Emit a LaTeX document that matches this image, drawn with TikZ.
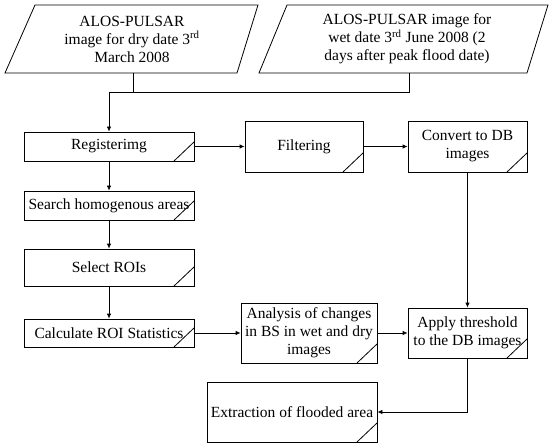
\documentclass[tikz,border=0pt]{standalone}
\usepackage{fontspec}
\setmainfont{Liberation Serif}
\usetikzlibrary{arrows.meta}
\tikzset{
  every node/.style={font=\fontsize{15.5}{18}\selectfont, align=center, inner sep=0pt},
  procbox/.style={draw, line width=0.8pt, rectangle,
    path picture={\draw[line width=0.8pt] ([xshift=-20pt]path picture bounding box.south east) -- ++(20pt,19pt);}},
  para/.style={draw, line width=0.8pt},
  conn/.style={line width=0.8pt},
  arr/.style={line width=0.8pt, -{Latex[length=5pt,width=4.5pt]}}
}
\begin{document}
\begin{tikzpicture}[x=1pt,y=-1pt]
\useasboundingbox (0,0) rectangle (550,444);
% input parallelograms
\draw[para] (35,5) -- (258,5) -- (237,73) -- (5,73) -- cycle;
\node (p1) at (132,39) {ALOS-PULSAR\\image for dry date 3\textsuperscript{rd}\\March 2008};
\draw[para] (287,5) -- (548,5) -- (527,73) -- (259,73) -- cycle;
\node (p2) at (407,39) {ALOS-PULSAR image for\\wet date 3\textsuperscript{rd} June 2008 (2\\days after peak flood date)};
\coordinate (p1b) at (133,73);
\coordinate (p2b) at (409,73);
\coordinate (j) at (109,92);
% process boxes
\node[procbox, minimum width=170, minimum height=29] (reg) at (109,146.5) {Registerimg};
\node[procbox, minimum width=170, minimum height=29] (search) at (109,205.5) {Search homogenous areas};
\node[procbox, minimum width=170, minimum height=37] (select) at (109,267.5) {Select ROIs};
\node[procbox, minimum width=170, minimum height=28] (calc) at (109,333) {Calculate ROI Statistics};
\node[procbox, minimum width=118, minimum height=51] (filt) at (304,146.5) {Filtering};
\node[procbox, minimum width=119, minimum height=51] (conv) at (467.5,146.5) {Convert to DB\\images};
\node[procbox, minimum width=136, minimum height=60] (anal) at (309,333) {Analysis of changes\\in BS in wet and dry\\images};
\node[procbox, minimum width=119, minimum height=50] (apply) at (467.5,333) {Apply threshold\\to the DB images};
\node[procbox, minimum width=170, minimum height=60] (extr) at (292,412) {Extraction of flooded area};
% connectors
\draw[conn] (p1b) |- (j);
\draw[conn] (p2b) |- (j);
\draw[arr] (j) -- (reg.north);
\draw[arr] (reg.east) -- (filt.west);
\draw[arr] (filt.east) -- (conv.west);
\draw[arr] (reg.south) -- (search.north);
\draw[arr] (search.south) -- (select.north);
\draw[arr] (select.south) -- (calc.north);
\draw[arr] (calc.east) -- (anal.west);
\draw[arr] (conv.south) -- (apply.north);
\draw[arr] (anal.east) -- (apply.west);
\draw[arr] (apply.south) |- (extr.east);
\end{tikzpicture}
\end{document}
